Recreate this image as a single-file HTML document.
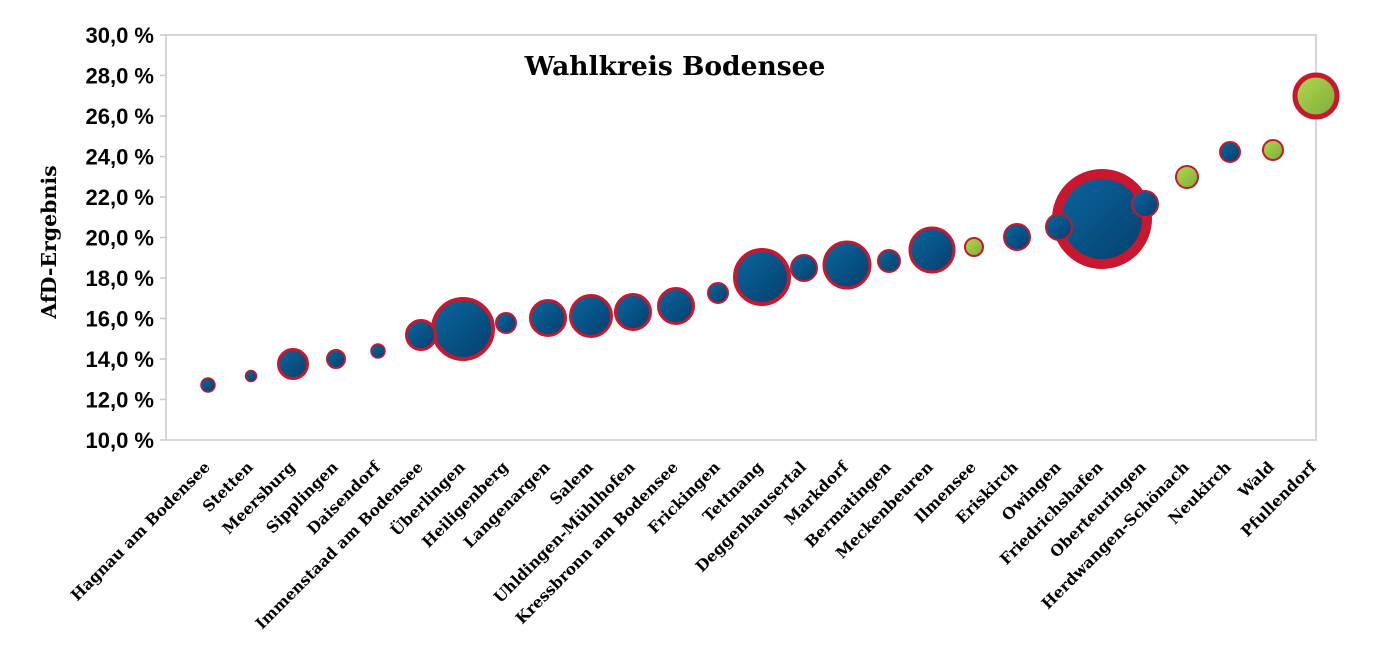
<!DOCTYPE html>
<html><head><meta charset="utf-8"><style>
html,body{margin:0;padding:0;background:#fff;width:1378px;height:670px;overflow:hidden}
</style></head><body>
<svg width="1378" height="670" viewBox="0 0 1378 670" xmlns="http://www.w3.org/2000/svg">
<defs>
<linearGradient id="b" x1="0" y1="0" x2="1" y2="1"><stop offset="0" stop-color="#0a679f"/><stop offset="1" stop-color="#043f6c"/></linearGradient>
<linearGradient id="g" x1="0" y1="0" x2="1" y2="1"><stop offset="0" stop-color="#b5d84e"/><stop offset="1" stop-color="#79ad3a"/></linearGradient>
</defs>
<rect x="166" y="35" width="1150" height="405" fill="none" stroke="#c8c8c8" stroke-width="1.5"/>
<g stroke="#c8c8c8" stroke-width="1.5">
<line x1="160" y1="35" x2="166" y2="35"/><line x1="160" y1="75.5" x2="166" y2="75.5"/><line x1="160" y1="116" x2="166" y2="116"/><line x1="160" y1="156.5" x2="166" y2="156.5"/><line x1="160" y1="197" x2="166" y2="197"/><line x1="160" y1="237.5" x2="166" y2="237.5"/><line x1="160" y1="278" x2="166" y2="278"/><line x1="160" y1="318.5" x2="166" y2="318.5"/><line x1="160" y1="359" x2="166" y2="359"/><line x1="160" y1="399.5" x2="166" y2="399.5"/><line x1="160" y1="440" x2="166" y2="440"/>
</g>
<g font-family="Liberation Sans, sans-serif" font-weight="bold" font-size="22" text-anchor="end" fill="#000">
<text x="154" y="43">30,0 %</text><text x="154" y="83.5">28,0 %</text><text x="154" y="124">26,0 %</text><text x="154" y="164.5">24,0 %</text><text x="154" y="205">22,0 %</text><text x="154" y="245.5">20,0 %</text><text x="154" y="286">18,0 %</text><text x="154" y="326.5">16,0 %</text><text x="154" y="367">14,0 %</text><text x="154" y="407.5">12,0 %</text><text x="154" y="448">10,0 %</text>
</g>
<text transform="translate(56,242) rotate(-90)" text-anchor="middle" font-family="DejaVu Serif, serif" font-weight="bold" font-size="20.5">AfD-Ergebnis</text>
<text x="675" y="75" text-anchor="middle" font-family="DejaVu Serif, serif" font-weight="bold" font-size="26.5">Wahlkreis Bodensee</text>
<g stroke="#c8172e">
<circle cx="1102" cy="219" r="45" fill="url(#b)" stroke-width="10"/>
<circle cx="463" cy="329" r="30" fill="url(#b)" stroke-width="4"/>
<circle cx="762" cy="277" r="27" fill="url(#b)" stroke-width="4"/>
<circle cx="847" cy="265" r="23" fill="url(#b)" stroke-width="3"/>
<circle cx="932" cy="250" r="22" fill="url(#b)" stroke-width="3"/>
<circle cx="1316" cy="96" r="21" fill="url(#g)" stroke-width="5"/>
<circle cx="591" cy="316" r="20.5" fill="url(#b)" stroke-width="3"/>
<circle cx="548" cy="318" r="17.5" fill="url(#b)" stroke-width="3"/>
<circle cx="633" cy="312" r="17.5" fill="url(#b)" stroke-width="3"/>
<circle cx="676" cy="306" r="17.5" fill="url(#b)" stroke-width="3"/>
<circle cx="293" cy="364" r="14.5" fill="url(#b)" stroke-width="3"/>
<circle cx="421" cy="335" r="14.5" fill="url(#b)" stroke-width="3"/>
<circle cx="804" cy="268" r="13" fill="url(#b)" stroke-width="2"/>
<circle cx="1017" cy="237" r="13" fill="url(#b)" stroke-width="2"/>
<circle cx="1059" cy="227" r="13" fill="url(#b)" stroke-width="2"/>
<circle cx="1145" cy="204" r="13" fill="url(#b)" stroke-width="2"/>
<circle cx="889" cy="261" r="11" fill="url(#b)" stroke-width="2"/>
<circle cx="1187" cy="177" r="11" fill="url(#g)" stroke-width="2"/>
<circle cx="506" cy="323" r="10" fill="url(#b)" stroke-width="2"/>
<circle cx="718" cy="293" r="10" fill="url(#b)" stroke-width="2"/>
<circle cx="1230" cy="152" r="10" fill="url(#b)" stroke-width="2"/>
<circle cx="1273" cy="150" r="10" fill="url(#g)" stroke-width="2"/>
<circle cx="336" cy="359" r="9" fill="url(#b)" stroke-width="2"/>
<circle cx="974" cy="247" r="9" fill="url(#g)" stroke-width="2"/>
<circle cx="208" cy="385" r="7" fill="url(#b)" stroke-width="1.5"/>
<circle cx="378" cy="351" r="7" fill="url(#b)" stroke-width="1.5"/>
<circle cx="251" cy="376" r="5.5" fill="url(#b)" stroke-width="1.5"/>
</g>
<g font-family="DejaVu Serif, serif" font-weight="bold" font-size="15.5" text-anchor="end" fill="#000">
<text transform="translate(211,468) rotate(-45)">Hagnau am Bodensee</text>
<text transform="translate(254,468) rotate(-45)">Stetten</text>
<text transform="translate(296,468) rotate(-45)">Meersburg</text>
<text transform="translate(339,468) rotate(-45)">Sipplingen</text>
<text transform="translate(381,468) rotate(-45)">Daisendorf</text>
<text transform="translate(424,468) rotate(-45)">Immenstaad am Bodensee</text>
<text transform="translate(466,468) rotate(-45)">Überlingen</text>
<text transform="translate(509,468) rotate(-45)">Heiligenberg</text>
<text transform="translate(551,468) rotate(-45)">Langenargen</text>
<text transform="translate(594,468) rotate(-45)">Salem</text>
<text transform="translate(636,468) rotate(-45)">Uhldingen-Mühlhofen</text>
<text transform="translate(679,468) rotate(-45)">Kressbronn am Bodensee</text>
<text transform="translate(721,468) rotate(-45)">Frickingen</text>
<text transform="translate(764,468) rotate(-45)">Tettnang</text>
<text transform="translate(807,468) rotate(-45)">Deggenhausertal</text>
<text transform="translate(849,468) rotate(-45)">Markdorf</text>
<text transform="translate(892,468) rotate(-45)">Bermatingen</text>
<text transform="translate(934,468) rotate(-45)">Meckenbeuren</text>
<text transform="translate(977,468) rotate(-45)">Ilmensee</text>
<text transform="translate(1019,468) rotate(-45)">Eriskirch</text>
<text transform="translate(1062,468) rotate(-45)">Owingen</text>
<text transform="translate(1104,468) rotate(-45)">Friedrichshafen</text>
<text transform="translate(1147,468) rotate(-45)">Oberteuringen</text>
<text transform="translate(1190,468) rotate(-45)">Herdwangen-Schönach</text>
<text transform="translate(1232,468) rotate(-45)">Neukirch</text>
<text transform="translate(1275,468) rotate(-45)">Wald</text>
<text transform="translate(1317,468) rotate(-45)">Pfullendorf</text>
</g>
</svg>
</body></html>
